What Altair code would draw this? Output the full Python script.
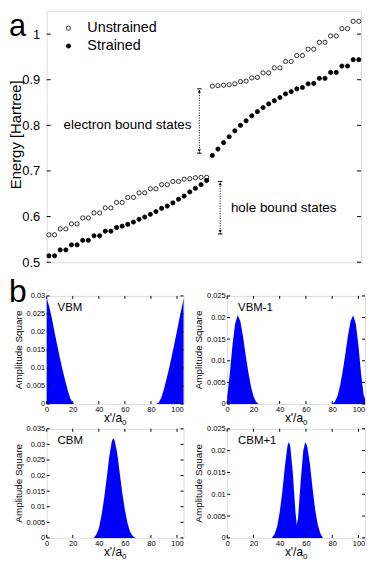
import altair as alt
import pandas as pd

FONT = "Liberation Sans"

# ---------------- panel a data ----------------
state_index = list(range(1, 57))
unstrained = [0.560, 0.560, 0.573, 0.573, 0.584, 0.584, 0.597, 0.597, 0.608, 0.608,
              0.619, 0.619, 0.631, 0.631, 0.642, 0.642, 0.652, 0.652, 0.661, 0.661,
              0.670, 0.670, 0.677, 0.677, 0.682, 0.683, 0.685, 0.686, 0.686,
              0.886, 0.887, 0.888, 0.889, 0.891, 0.896, 0.897, 0.904, 0.905, 0.915,
              0.915, 0.926, 0.926, 0.940, 0.940, 0.953, 0.953, 0.967, 0.967, 0.982,
              0.982, 0.996, 0.996, 1.012, 1.012, 1.028, 1.028]
strained = [0.514, 0.514, 0.527, 0.527, 0.538, 0.538, 0.548, 0.548, 0.558, 0.558,
            0.568, 0.568, 0.576, 0.579, 0.583, 0.588, 0.594, 0.599, 0.605, 0.611,
            0.618, 0.623, 0.630, 0.638, 0.645, 0.654, 0.662, 0.670, 0.679,
            0.734, 0.748, 0.762, 0.775, 0.788, 0.800, 0.810, 0.821, 0.830, 0.839,
            0.847, 0.854, 0.861, 0.869, 0.874, 0.880, 0.883, 0.891, 0.892, 0.903,
            0.903, 0.916, 0.916, 0.930, 0.930, 0.944, 0.944]
series_names = ["Unstrained", "Strained"]
series_fill = ["white", "black"]
a_yticks = [0.5, 0.6, 0.7, 0.8, 0.9, 1.0]

annot_text = ["electron bound states", "hole bound states"]
annot_x = [3.6, 33.3]
annot_y = [0.800, 0.619]
arrow_x = [27.7, 31.4]
arrow_lo = [0.739, 0.562]
arrow_hi = [0.880, 0.677]

# ---------------- panel b data (envelopes) ----------------
b_xticks = [0, 20, 40, 60, 80, 100]

vbm_x = [0, 2, 4, 6, 8, 10, 12, 14, 16, 18, 20, 21, 84, 86, 88, 90, 92, 94, 96, 98, 100, 102, 104, 105]
vbm_y = [0.0295, 0.0270, 0.0238, 0.0200, 0.0165, 0.0130, 0.0098, 0.0068, 0.0040, 0.0017, 0.0003, 0.0,
         0.0, 0.0004, 0.0018, 0.0042, 0.0070, 0.0100, 0.0133, 0.0168, 0.0203, 0.0240, 0.0275, 0.0293]

vbm1_x = [0, 2, 4, 6, 8, 10, 12, 14, 16, 18, 20, 22, 24, 80, 82, 84, 86, 88, 90, 92, 94, 96, 98, 100, 102, 104, 105]
vbm1_y = [0.0015, 0.0070, 0.0135, 0.0185, 0.0205, 0.0192, 0.0158, 0.0115, 0.0076, 0.0042, 0.0018, 0.0005, 0.0,
          0.0, 0.0005, 0.0018, 0.0042, 0.0076, 0.0115, 0.0158, 0.0192, 0.0205, 0.0185, 0.0135, 0.0070, 0.0020, 0.0012]

cbm_x = [0, 36, 38, 40, 42, 44, 46, 48, 50, 51, 52, 54, 56, 58, 60, 62, 64, 66, 68, 105]
cbm_y = [0.0, 0.0, 0.0010, 0.0030, 0.0070, 0.0125, 0.0190, 0.0260, 0.0310, 0.0320, 0.0315, 0.0275,
         0.0210, 0.0145, 0.0090, 0.0048, 0.0020, 0.0006, 0.0, 0.0]

cbm1_x = [0, 34, 36, 38, 40, 42, 44, 46, 47, 48, 50, 52, 53, 54, 56, 58, 59.5, 61, 63, 65, 67, 69, 71, 73, 105]
cbm1_y = [0.0, 0.0, 0.0008, 0.0025, 0.0058, 0.0105, 0.0165, 0.0212, 0.0220, 0.0212, 0.0150, 0.0060, 0.0030,
          0.0045, 0.0130, 0.0200, 0.0220, 0.0210, 0.0170, 0.0115, 0.0065, 0.0030, 0.0010, 0.0, 0.0]

# ---------------- panel a ----------------
WA, HA = 317, 253
df_a = pd.DataFrame({
    "idx": state_index * 2,
    "E": unstrained + strained,
    "series": [series_names[0]] * len(unstrained) + [series_names[1]] * len(strained),
})
xs_a = alt.Scale(domain=[0.6, 56.4], nice=False, zero=False)
ys_a = alt.Scale(domain=[0.5, 1.05], nice=False, zero=False)
fill_scale = alt.Scale(domain=series_names, range=series_fill)
ax_ya = alt.Axis(values=a_yticks, format="~g", title=None, grid=False, domain=False,
                 ticks=True, tickSize=0, labelFontSize=13, labelPadding=7,
                 labelFont=FONT, labelColor="black")


def YA(field):
    return alt.Y(field, scale=ys_a, axis=ax_ya)


def XA(field):
    return alt.X(field, scale=xs_a, axis=None)


points = alt.Chart(df_a).mark_point(
    shape="circle", filled=True, stroke="black", strokeWidth=0.8, size=18, opacity=1
).encode(
    x=XA("idx:Q"),
    y=YA("E:Q"),
    fill=alt.Fill("series:N", scale=fill_scale, legend=None),
)

# hand-placed legend (inside the plot, top left)
legend_layers = []
for k, (name, col) in enumerate(zip(series_names, series_fill)):
    ypix = 17 + 18 * k
    ldf = pd.DataFrame({"t": [name]})
    legend_layers.append(alt.Chart(ldf).mark_point(
        shape="circle", filled=True, stroke="black", strokeWidth=0.8, size=18, opacity=1, fill=col
    ).encode(x=alt.value(22), y=alt.value(ypix)))
    legend_layers.append(alt.Chart(ldf).mark_text(
        align="left", baseline="middle", fontSize=14.5, font=FONT, color="black"
    ).encode(x=alt.value(41), y=alt.value(ypix), text="t:N"))

df_ticks_a = pd.DataFrame({"v": a_yticks})
tick_l = alt.Chart(df_ticks_a).mark_rule(color="black", strokeWidth=1).encode(
    y=YA("v:Q"), x=alt.value(0), x2=alt.value(4))
tick_r = alt.Chart(df_ticks_a).mark_rule(color="black", strokeWidth=1).encode(
    y=YA("v:Q"), x=alt.value(WA - 4), x2=alt.value(WA))

df_annot = pd.DataFrame({"t": annot_text, "x": annot_x, "y": annot_y})
annots = alt.Chart(df_annot).mark_text(
    align="left", baseline="middle", fontSize=13.5, font=FONT, color="black"
).encode(x=XA("x:Q"), y=YA("y:Q"), text="t:N")

df_arrow = pd.DataFrame({"x": arrow_x, "lo": arrow_lo, "hi": arrow_hi,
                         "xl": [v - 0.4 for v in arrow_x], "xr": [v + 0.4 for v in arrow_x]})
arr_line = alt.Chart(df_arrow).mark_rule(color="black", strokeWidth=1, strokeDash=[1, 1.5]).encode(
    x=XA("x:Q"), y=YA("lo:Q"), y2="hi:Q")
cap_lo = alt.Chart(df_arrow).mark_rule(color="black", strokeWidth=1).encode(
    x=XA("xl:Q"), x2="xr:Q", y=YA("lo:Q"))
cap_hi = alt.Chart(df_arrow).mark_rule(color="black", strokeWidth=1).encode(
    x=XA("xl:Q"), x2="xr:Q", y=YA("hi:Q"))
head_hi = alt.Chart(df_arrow).mark_point(shape="triangle-up", filled=True, color="black", size=10, opacity=1,
                                         yOffset=2.5).encode(x=XA("x:Q"), y=YA("hi:Q"))
head_lo = alt.Chart(df_arrow).mark_point(shape="triangle-down", filled=True, color="black", size=10, opacity=1,
                                         yOffset=-2.5).encode(x=XA("x:Q"), y=YA("lo:Q"))

label_a = alt.Chart(pd.DataFrame({"t": ["a"]})).mark_text(
    align="left", baseline="alphabetic", fontSize=31, font=FONT, color="black"
).encode(text="t:N", x=alt.value(-38), y=alt.value(25))
title_a = alt.Chart(pd.DataFrame({"t": ["Energy [Hartree]"]})).mark_text(
    align="center", baseline="middle", fontSize=15, font=FONT, color="black", angle=270
).encode(text="t:N", x=alt.value(-31), y=alt.value(124.5))

panel_a = alt.layer(points, *legend_layers, tick_l, tick_r, arr_line, cap_lo, cap_hi,
                    head_hi, head_lo, annots, label_a, title_a).properties(width=WA, height=HA)


# ---------------- panel b ----------------
def bpanel(xv, yv, name, ymax, yticks, w, h, letter=None):
    df = pd.DataFrame({"x": xv, "y": yv})
    xsc = alt.Scale(domain=[0, 105], nice=False, zero=False)
    ysc = alt.Scale(domain=[0, ymax], nice=False, zero=False)
    axx = alt.Axis(values=b_xticks, title=None, grid=False, domain=False, ticks=True, tickSize=0,
                   labelFontSize=7.5, labelPadding=2, labelFont=FONT, labelColor="black",
                   labelFlush=False, labelOverlap=False)
    axy = alt.Axis(values=yticks, format="~g", title=None, grid=False, domain=False, ticks=True,
                   tickSize=0, labelFontSize=7.5, labelPadding=2, labelFont=FONT, labelColor="black",
                   labelFlush=False, labelOverlap=False)

    def X(f):
        return alt.X(f, scale=xsc, axis=axx)

    def Y(f):
        return alt.Y(f, scale=ysc, axis=axy)

    area = alt.Chart(df).mark_area(color="#0000ff", opacity=1, interpolate="linear").encode(
        x=X("x:Q"), y=Y("y:Q"))
    dfy = pd.DataFrame({"v": yticks})
    dfx = pd.DataFrame({"v": b_xticks})
    tl = alt.Chart(dfy).mark_rule(color="black").encode(y=Y("v:Q"), x=alt.value(0), x2=alt.value(3))
    tr = alt.Chart(dfy).mark_rule(color="black").encode(y=Y("v:Q"), x=alt.value(w - 3), x2=alt.value(w))
    tb = alt.Chart(dfx).mark_rule(color="black").encode(x=X("v:Q"), y=alt.value(h - 3), y2=alt.value(h))
    tt = alt.Chart(dfx).mark_rule(color="black").encode(x=X("v:Q"), y=alt.value(0), y2=alt.value(3))
    name_t = alt.Chart(pd.DataFrame({"t": [name]})).mark_text(
        align="left", baseline="alphabetic", fontSize=11.5, font=FONT, color="black"
    ).encode(text="t:N", x=alt.value(11), y=alt.value(15))
    ytitle = alt.Chart(pd.DataFrame({"t": ["Amplitude Square"]})).mark_text(
        align="center", baseline="middle", fontSize=10, font=FONT, color="black", angle=270
    ).encode(text="t:N", x=alt.value(-28), y=alt.value(h / 2))
    xt1 = alt.Chart(pd.DataFrame({"t": ["x'/a"]})).mark_text(
        align="right", baseline="alphabetic", fontSize=12, font=FONT, color="black"
    ).encode(text="t:N", x=alt.value(w / 2 + 7), y=alt.value(h + 18))
    xt2 = alt.Chart(pd.DataFrame({"t": ["0"]})).mark_text(
        align="left", baseline="alphabetic", fontSize=8, font=FONT, color="black"
    ).encode(text="t:N", x=alt.value(w / 2 + 7), y=alt.value(h + 21))
    layers = [area, tl, tr, tb, tt, name_t, ytitle, xt1, xt2]
    if letter:
        layers.append(alt.Chart(pd.DataFrame({"t": [letter]})).mark_text(
            align="left", baseline="alphabetic", fontSize=32, font=FONT, color="black"
        ).encode(text="t:N", x=alt.value(-38), y=alt.value(6)))
    return alt.layer(*layers).properties(width=w, height=h)


tick5 = [0, 0.005, 0.01, 0.015, 0.02, 0.025, 0.03]
p_vbm = bpanel(vbm_x, vbm_y, "VBM", 0.03, tick5, 138, 109, letter="b")
p_vbm1 = bpanel(vbm1_x, vbm1_y, "VBM-1", 0.025, tick5[:6], 139, 109)
p_cbm = bpanel(cbm_x, cbm_y, "CBM", 0.035, tick5 + [0.035], 138, 110)
p_cbm1 = bpanel(cbm1_x, cbm1_y, "CBM+1", 0.025, tick5[:6], 139, 110)

row1 = alt.hconcat(p_vbm, p_vbm1, spacing=9)
row2 = alt.hconcat(p_cbm, p_cbm1, spacing=9)
rows_b = alt.vconcat(row1, row2, spacing=-4)

chart = alt.vconcat(panel_a, rows_b, spacing=5).configure_view(
    stroke="black", strokeWidth=1
).configure(padding=0, background="white")

chart.save("out.html", embed_options={"renderer": "svg", "actions": False})
